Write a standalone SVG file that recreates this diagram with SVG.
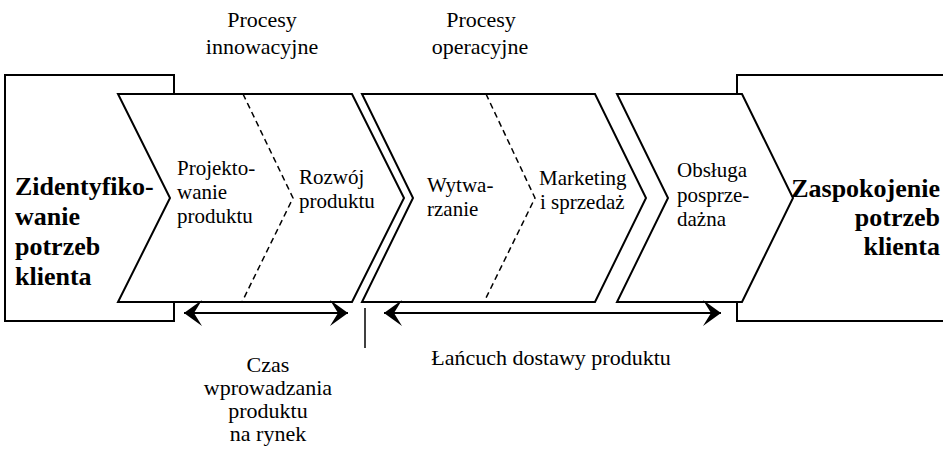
<svg xmlns="http://www.w3.org/2000/svg" width="943" height="453" viewBox="0 0 943 453">
<style>
.box{fill:#fff;stroke:#000;stroke-width:2}
.chev{fill:#fff;stroke:#000;stroke-width:2;stroke-linejoin:miter}
.div{fill:none;stroke:#000;stroke-width:1.5;stroke-dasharray:6,4}
text{font-family:'Liberation Serif','Times New Roman',serif;fill:#000}
.n{font-size:21px}
.l{font-size:22px}
.b{font-size:26px;font-weight:bold}
.arr{fill:none;stroke:#000;stroke-width:1.8}
</style>
<defs>
<marker id="head" markerUnits="userSpaceOnUse" markerWidth="22" markerHeight="28" viewBox="-19 -14 21 28" refX="0" refY="0" orient="auto-start-reverse">
<path d="M0,0 L-18,-13 L-10,0 L-18,13 Z" fill="#000"/>
</marker>
</defs>
<g id="start">
<rect class="box" x="5" y="75" width="169" height="246"/>
</g>
<g id="end">
<rect class="box" x="737" y="75" width="230" height="246"/>
</g>
<g id="innovation">
<polygon class="chev" points="118,94 352,94 404,198 352,302 118,302 170,198"/>
<polyline class="div" points="243,94 293,198 242,302"/>
<text class="n" x="177" y="175">Projekto-</text>
<text class="n" x="177" y="199">wanie</text>
<text class="n" x="177" y="223">produktu</text>
<text class="n" x="299" y="184">Rozwój</text>
<text class="n" x="299" y="208">produktu</text>
</g>
<g id="operations">
<polygon class="chev" points="362,94 595,94 646,198 595,302 362,302 413,198"/>
<polyline class="div" points="486,94 535,198 484,302"/>
<text class="n" x="427" y="192">Wytwa-</text>
<text class="n" x="427" y="216">rzanie</text>
<text class="n" x="539" y="185">Marketing</text>
<text class="n" x="540" y="209">i sprzedaż</text>
</g>
<g id="service">
<polygon class="chev" points="617,94 742,94 793,198 742,302 617,302 668,198"/>
<text class="n" x="677" y="177">Obsługa</text>
<text class="n" x="677" y="202">posprze-</text>
<text class="n" x="677" y="226">dażna</text>
</g>
<g id="start-label">
<text class="b" x="15" y="195">Zidentyfiko-</text>
<text class="b" x="15" y="225">wanie</text>
<text class="b" x="15" y="255">potrzeb</text>
<text class="b" x="15" y="285">klienta</text>
</g>
<g id="end-label" text-anchor="end">
<text class="b" x="940" y="197">Zaspokojenie</text>
<text class="b" x="940" y="226">potrzeb</text>
<text class="b" x="940" y="255">klienta</text>
</g>
<g id="top-labels" text-anchor="middle">
<text class="l" x="262" y="27">Procesy</text>
<text class="l" x="262" y="54">innowacyjne</text>
<text class="l" x="481" y="27">Procesy</text>
<text class="l" x="480" y="54">operacyjne</text>
</g>
<g id="connectors">
<line class="arr" x1="184" y1="313" x2="348" y2="313" marker-start="url(#head)" marker-end="url(#head)"/>
<line class="arr" x1="384" y1="313" x2="721" y2="313" marker-start="url(#head)" marker-end="url(#head)"/>
<line x1="365" y1="308" x2="365" y2="348" stroke="#000" stroke-width="1.5"/>
</g>
<g id="bottom-labels" text-anchor="middle">
<text class="l" x="268" y="372">Czas</text>
<text class="l" x="268" y="395">wprowadzania</text>
<text class="l" x="268" y="418">produktu</text>
<text class="l" x="268" y="441">na rynek</text>
<text class="l" x="551" y="365">Łańcuch dostawy produktu</text>
</g>
</svg>
